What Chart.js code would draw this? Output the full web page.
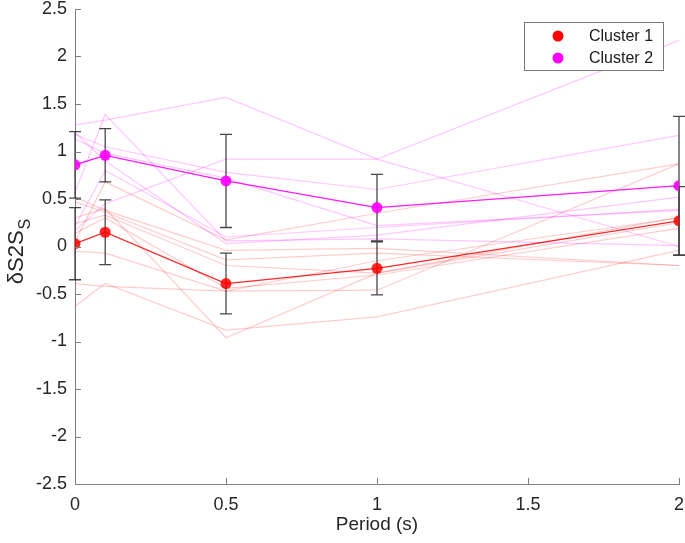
<!DOCTYPE html>
<html>
<head>
<meta charset="utf-8">
<script src="https://cdn.jsdelivr.net/npm/chart.js@4/dist/chart.umd.min.js"></script>
<style>
  body { margin: 0; background: #fff; }
  #wrap { width: 685px; height: 543px; }
</style>
</head>
<body>
<div id="wrap"><canvas id="chartContainer_dS2S" width="685" height="543"></canvas></div>
<script>
var periods = [0, 0.1, 0.5, 1, 2];
var xTicks = [0, 0.5, 1, 1.5, 2];
var seriesNames = ['Cluster 1', 'Cluster 2'];

var cluster1Mean = [0.03, 0.15, -0.39, -0.23, 0.27];
var cluster1Err = [0.38, 0.34, 0.32, 0.28, 0.36];
var cluster2Mean = [0.86, 0.96, 0.69, 0.41, 0.64];
var cluster2Err = [0.35, 0.28, 0.49, 0.35, 0.73];

// single stations, faint lines
var cluster1Members = [
    [0.05, 0.68, 0.07, 0.35, 0.87],
    [0.52, 0.38, -0.04, -0.02, -0.20],
    [0.47, 0.36, -0.14, -0.07, -0.20],
    [0.24, 0.33, -0.20, -0.28, 0.31],
    [0.14, 0.30, -0.44, -0.30, 0.19],
    [-0.63, -0.39, -0.88, -0.74, -0.04],
    [-0.05, -0.07, -0.47, -0.46, 0.87],
    [0.30, 0.40, -0.96, -0.28, 0.25],
    [-0.39, -0.42, -0.47, -0.15, 0.30]
];
var cluster2Members = [
    [1.28, 1.33, 1.57, 0.92, 2.17],
    [0.57, 1.39, 0.06, 0.08, 0.01],
    [0.17, 0.45, 0.92, 0.92, 0.00],
    [1.18, 1.05, 0.78, 0.60, 1.17],
    [1.13, 0.98, 0.72, 0.22, 0.38],
    [1.20, 0.90, 0.03, 0.12, 0.52],
    [0.21, 0.80, 0.10, 0.20, 0.39]
];

var colorC1 = 'rgb(255,0,0)';
var colorC2 = 'rgb(255,0,255)';
var fontFam = '"Liberation Sans", Arial, Helvetica, sans-serif';

function toPoints(values) {
    var pts = [];
    for (var i = 0; i < periods.length; i++) {
        pts.push({ x: periods[i], y: values[i] });
    }
    return pts;
}

function meanDataset(name, values, color) {
    return {
        label: name,
        data: toPoints(values),
        borderColor: color,
        backgroundColor: color,
        borderWidth: 1.3,
        pointRadius: 5.5,
        pointBorderWidth: 0,
        pointBackgroundColor: color,
        tension: 0
    };
}

function memberDataset(values, color) {
    return {
        label: '',
        data: toPoints(values),
        borderColor: color,
        borderWidth: 1.2,
        pointRadius: 0,
        tension: 0
    };
}

var datasets = [];
datasets.push(meanDataset(seriesNames[0], cluster1Mean, 'rgba(255,0,0,0.85)'));
datasets.push(meanDataset(seriesNames[1], cluster2Mean, 'rgba(255,0,255,0.9)'));
for (var j = 0; j < cluster2Members.length; j++) {
    datasets.push(memberDataset(cluster2Members[j], 'rgba(255,0,255,0.22)'));
}
for (var j = 0; j < cluster1Members.length; j++) {
    datasets.push(memberDataset(cluster1Members[j], 'rgba(255,0,0,0.2)'));
}

function drawErrBars(chart, means, errs) {
    var ctx = chart.ctx;
    var xs = chart.scales.x, ys = chart.scales.y;
    ctx.save();
    ctx.strokeStyle = 'rgba(40,40,40,0.85)';
    ctx.lineWidth = 1.3;
    for (var i = 0; i < periods.length; i++) {
        var px = xs.getPixelForValue(periods[i]);
        var lo = ys.getPixelForValue(means[i] - errs[i]);
        var hi = ys.getPixelForValue(means[i] + errs[i]);
        ctx.beginPath();
        ctx.moveTo(px, lo); ctx.lineTo(px, hi);
        ctx.moveTo(px - 6, lo); ctx.lineTo(px + 6, lo);
        ctx.moveTo(px - 6, hi); ctx.lineTo(px + 6, hi);
        ctx.stroke();
    }
    ctx.restore();
}

function plainTick(value) {
    return String(Math.round(value * 10) / 10);
}

var extras = {
    id: 'extras',
    beforeDatasetDraw: function(chart, args) {
        if (args.index !== 1) return;
        drawErrBars(chart, cluster2Mean, cluster2Err);
        drawErrBars(chart, cluster1Mean, cluster1Err);
    },
    afterDraw: function(chart) {
        var ctx = chart.ctx;
        var area = chart.chartArea;
        var xs = chart.scales.x, ys = chart.scales.y;
        ctx.save();
        // inward ticks
        ctx.strokeStyle = '#808080';
        ctx.lineWidth = 1;
        ctx.beginPath();
        ys.ticks.forEach(function(t) {
            var py = Math.round(ys.getPixelForValue(t.value)) + 0.5;
            ctx.moveTo(area.left, py); ctx.lineTo(area.left + 6, py);
        });
        xs.ticks.forEach(function(t) {
            var px = Math.round(xs.getPixelForValue(t.value)) + 0.5;
            ctx.moveTo(px, area.bottom); ctx.lineTo(px, area.bottom - 6);
        });
        ctx.stroke();

        // axis titles
        ctx.fillStyle = '#262626';
        ctx.font = '19px ' + fontFam;
        ctx.textAlign = 'center';
        ctx.textBaseline = 'middle';
        ctx.fillText('Period (s)', (area.left + area.right) / 2, 525);

        ctx.translate(16, 252);
        ctx.rotate(-Math.PI / 2);
        ctx.textAlign = 'left';
        ctx.textBaseline = 'alphabetic';
        ctx.font = '22px ' + fontFam;
        var mainTxt = 'δS2S';
        var w1 = ctx.measureText(mainTxt).width;
        ctx.font = '16px ' + fontFam;
        var w2 = ctx.measureText('S').width;
        var x0 = -(w1 + w2) / 2;
        ctx.font = '22px ' + fontFam;
        ctx.fillText(mainTxt, x0, 7);
        ctx.font = '16px ' + fontFam;
        ctx.fillText('S', x0 + w1 + 1, 14);
        ctx.setTransform(1, 0, 0, 1, 0, 0);

        // legend box
        var bx = 524.5, by = 22.5, bw = 139, bh = 48;
        ctx.fillStyle = '#ffffff';
        ctx.fillRect(bx, by, bw, bh);
        ctx.strokeStyle = '#7a7a7a';
        ctx.lineWidth = 1;
        ctx.strokeRect(bx, by, bw, bh);
        var colors = [colorC1, colorC2];
        ctx.font = '16px ' + fontFam;
        ctx.textAlign = 'left';
        ctx.textBaseline = 'middle';
        for (var i = 0; i < seriesNames.length; i++) {
            var ry = 36 + i * 22;
            ctx.fillStyle = colors[i];
            ctx.beginPath();
            ctx.arc(558, ry, 5.5, 0, Math.PI * 2);
            ctx.fill();
            ctx.fillStyle = '#1a1a1a';
            ctx.fillText(seriesNames[i], 589, ry + 1);
        }
        ctx.restore();
    }
};

var ctx = document.getElementById('chartContainer_dS2S');
var chart = new Chart(ctx, {
    type: 'line',
    data: { datasets: datasets },
    plugins: [extras],
    options: {
        responsive: false,
        animation: false,
        devicePixelRatio: 1,
        layout: { padding: { top: 9, right: 6, left: 0, bottom: 0 } },
        plugins: {
            legend: { display: false },
            tooltip: { enabled: false }
        },
        scales: {
            x: {
                type: 'linear',
                min: 0,
                max: 2,
                afterBuildTicks: function(scale) {
                    scale.ticks = xTicks.map(function(v) { return { value: v }; });
                },
                grid: { display: false, drawTicks: false },
                border: { display: true, color: '#808080', width: 1 },
                ticks: {
                    color: '#262626',
                    padding: 10,
                    font: { family: fontFam, size: 18 },
                    callback: plainTick
                },
                afterFit: function(scale) {
                    scale.height = 59;
                    scale.paddingLeft = 0;
                    scale.paddingRight = 0;
                }
            },
            y: {
                min: -2.5,
                max: 2.5,
                grid: { display: false, drawTicks: false },
                border: { display: true, color: '#808080', width: 1 },
                ticks: {
                    stepSize: 0.5,
                    color: '#262626',
                    padding: 8,
                    font: { family: fontFam, size: 18 },
                    callback: plainTick
                },
                afterFit: function(scale) {
                    scale.width = 75;
                    scale.paddingTop = 0;
                    scale.paddingBottom = 0;
                }
            }
        }
    }
});
</script>
</body>
</html>
